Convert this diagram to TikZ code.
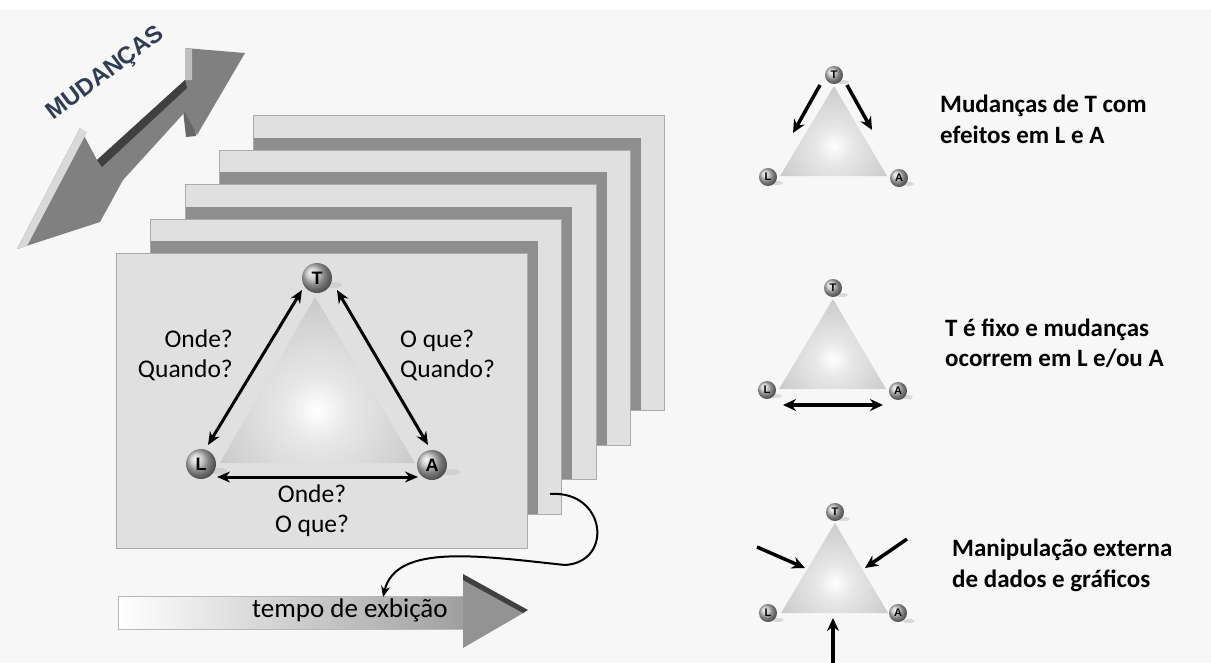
\documentclass[tikz,border=0pt]{standalone}
\usepackage{fontspec}
\setmainfont{Carlito}
\newfontfamily\arialf{Liberation Sans}
\usetikzlibrary{arrows.meta,calc}
\definecolor{bg}{HTML}{F7F7F7}
\definecolor{framefill}{HTML}{E0E0E0}
\definecolor{frameline}{HTML}{ABABAB}
\definecolor{shadowgray}{HTML}{8E8E8E}
\definecolor{arrowgray}{HTML}{808080}
\definecolor{navy}{HTML}{2F3D55}
\pgfdeclareradialshading{trishade}{\pgfpoint{0bp}{0bp}}{color(0bp)=(white); color(7bp)=(gray!18); color(25bp)=(gray!42); color(50bp)=(gray!62)}
\tikzset{
  frame/.style={fill=framefill, draw=frameline, line width=0.8pt},
  shadowband/.style={fill=shadowgray},
  ball/.style={circle, ball color=gray!50, inner sep=0pt, text=black,
    font=\arialf\bfseries\fontsize{18}{18}\selectfont, minimum size=30pt},
  smallball/.style={ball, minimum size=18pt, font=\arialf\bfseries\fontsize{11}{11}\selectfont},
  ballshadow/.style={fill=gray!45, opacity=0.6},
  lbl/.style={font=\fontsize{25.5}{30}\selectfont, inner sep=0pt},
  side/.style={font=\bfseries\fontsize{25}{31}\selectfont, inner sep=0pt, anchor=base west},
  dbl/.style={line width=3pt, {Stealth[length=13pt,width=11pt]}-{Stealth[length=13pt,width=11pt]}},
  sarrow/.style={line width=3.5pt, -{Stealth[length=13pt,width=12pt]}},
  sdbl/.style={line width=3.5pt, {Stealth[length=13pt,width=12pt]}-{Stealth[length=13pt,width=12pt]}},
}
\begin{document}
\begin{tikzpicture}[x=1pt,y=-1pt]
\useasboundingbox (0,0) rectangle (1211,662);
\fill[white] (0,0) rectangle (1211,662);
\fill[bg] (0,10) rectangle (1211,662);

% ---- MUDANCAS double arrow ----
\fill[black!60] (183,110) -- (193,108) -- (196,136) -- (186,137) -- cycle;
\fill[arrowgray] (17,249) -- (80,128) -- (97,160) -- (185,80) -- (185,48) -- (245,53)
   -- (197,135) -- (185,112) -- (123,180) -- (100,222) -- cycle;
\fill[gray!30] (17,249) -- (80,128) -- (87,132) -- (27,246) -- cycle;
\fill[black!75] (97,160) -- (185,80) -- (187,88) -- (102,167) -- cycle;
\fill[gray!50] (185,48) -- (192,49) -- (192,80) -- (185,80) -- cycle;
\node[rotate=37, text=navy, font=\arialf\bfseries\fontsize{24}{24}\selectfont, inner sep=0pt] (mud) at (106,74) {MUDANÇAS};

% ---- stacked frames ----
\filldraw[frame] (253,115) rectangle (664,410);
\fill[shadowband] (253.5,138) rectangle (641,409.5);
\filldraw[frame] (219,150) rectangle (630,445);
\fill[shadowband] (219.5,172) rectangle (607,444.5);
\filldraw[frame] (185,184) rectangle (596,479);
\fill[shadowband] (185.5,207) rectangle (572,478.5);
\filldraw[frame] (150,219) rectangle (561,514);
\fill[shadowband] (150.5,241) rectangle (538,513.5);
\filldraw[frame] (116,253) rectangle (527,548);

% ---- main triangle ----
\begin{scope}
  \clip (315,297) -- (220,463) -- (415,463) -- cycle;
  \shade[shading=trishade] (317,410) circle (112pt);
\end{scope}
\fill[ballshadow] (333,285) ellipse (9pt and 3pt);
\fill[ballshadow] (218,471) ellipse (9pt and 3pt);
\fill[ballshadow] (450,472) ellipse (10pt and 3pt);
\node[ball] (T1) at (317,278) {T};
\node[ball] (L1) at (201,464) {L};
\node[ball] (A1) at (432,465) {A};
\draw[dbl] ([shift={(-15,12)}]T1.center) -- ([shift={(7,-19)}]L1.center);
\draw[dbl] ([shift={(20,12)}]T1.center) -- ([shift={(-4,-20)}]A1.center);
\draw[dbl] ([shift={(16,13)}]L1.center) -- ([shift={(-14,12)}]A1.center);
\node[lbl, anchor=base east] (ondeL) at (233,347) {Onde?};
\node[lbl, anchor=base east] (quandoL) at (233,377) {Quando?};
\node[lbl, anchor=base west] (oqueR) at (400,347) {O que?};
\node[lbl, anchor=base west] (quandoR) at (400,377) {Quando?};
\node[lbl, anchor=base] (ondeB) at (312,502) {Onde?};
\node[lbl, anchor=base] (oqueB) at (312,532) {O que?};

% ---- tempo arrow ----
\shade[left color=white, right color=gray!75, draw=gray!55, line width=0.8pt] (118,596) rectangle (463,629);
\fill[gray!85] (463,577) -- (525,612) -- (463,648) -- cycle;
\fill[black!75] (463,574) -- (528,610) -- (523,613) -- (463,580) -- cycle;
\node[font=\fontsize{27}{27}\selectfont, anchor=base west, inner sep=0pt] (tempo) at (252,617) {tempo de exbição};

% ---- curved connector ----
\coordinate (cs) at (550,494);
\coordinate (cmid) at (565,565);
\coordinate (ce) at (383,597);
\draw[line width=2pt, -{Stealth[length=11pt,width=9pt]}] (cs) .. controls (606,490) and (614,562) .. (cmid) .. controls (480,556) and (396,543) .. (ce);

% ---- small triangle 1 ----
\begin{scope}[shift={(834,75)}]
  \begin{scope}
    \clip (0,11) -- (-54,101) -- (53,101) -- cycle;
    \shade[shading=trishade] (0,71) circle (62pt);
  \end{scope}
  \fill[ballshadow] (9,7) ellipse (6pt and 2pt);
  \fill[ballshadow] (-57,108) ellipse (6pt and 2pt);
  \fill[ballshadow] (74,109) ellipse (6pt and 2pt);
  \node[smallball] (T2) at (0,0) {T};
  \node[smallball] (L2) at (-66,102) {L};
  \node[smallball] (A2) at (65,103) {A};
  \coordinate (e21) at (-41,58);
  \coordinate (e22) at (38,55);
  \draw[sarrow] ([shift={(-14,10)}]T2.center) -- (e21);
  \draw[sarrow] ([shift={(13,10)}]T2.center) -- (e22);
\end{scope}

% ---- small triangle 2 ----
\begin{scope}[shift={(833,288)}]
  \begin{scope}
    \clip (0,11) -- (-54,101) -- (53,101) -- cycle;
    \shade[shading=trishade] (0,71) circle (62pt);
  \end{scope}
  \fill[ballshadow] (9,7) ellipse (6pt and 2pt);
  \fill[ballshadow] (-57,108) ellipse (6pt and 2pt);
  \fill[ballshadow] (74,109) ellipse (6pt and 2pt);
  \node[smallball] (T3) at (0,0) {T};
  \node[smallball] (L3) at (-66,102) {L};
  \node[smallball] (A3) at (65,103) {A};
  \draw[sdbl] ([shift={(16,15)}]L3.center) -- ([shift={(-15,14)}]A3.center);
\end{scope}

% ---- small triangle 3 ----
\begin{scope}[shift={(835,512)}]
  \begin{scope}
    \clip (0,11) -- (-54,101) -- (53,101) -- cycle;
    \shade[shading=trishade] (0,71) circle (62pt);
  \end{scope}
  \fill[ballshadow] (9,7) ellipse (6pt and 2pt);
  \fill[ballshadow] (-57,108) ellipse (6pt and 2pt);
  \fill[ballshadow] (74,109) ellipse (6pt and 2pt);
  \node[smallball] (T4) at (0,0) {T};
  \node[smallball] (L4) at (-67,101) {L};
  \node[smallball] (A4) at (63,101) {A};
  \coordinate (s41) at (-78,35);
  \coordinate (e41) at (-30,56);
  \coordinate (s42) at (72,27);
  \coordinate (e42) at (30,56);
  \coordinate (s43) at (-2,152);
  \coordinate (e43) at (-2,106);
  \draw[sarrow] (s41) -- (e41);
  \draw[sarrow] (s42) -- (e42);
  \draw[sarrow] (s43) -- (e43);
\end{scope}

% ---- side texts ----
\node[side] (m1) at (940,112) {Mudanças de T com};
\node[side] (m2) at (940,143) {efeitos em L e A};
\node[side] (f1) at (945,336) {T é fixo e mudanças};
\node[side] (f2) at (945,366) {ocorrem em L e/ou A};
\node[side] (x1) at (952,556) {Manipulação externa};
\node[side] (x2) at (952,587) {de dados e gráficos};
\end{tikzpicture}
\end{document}
